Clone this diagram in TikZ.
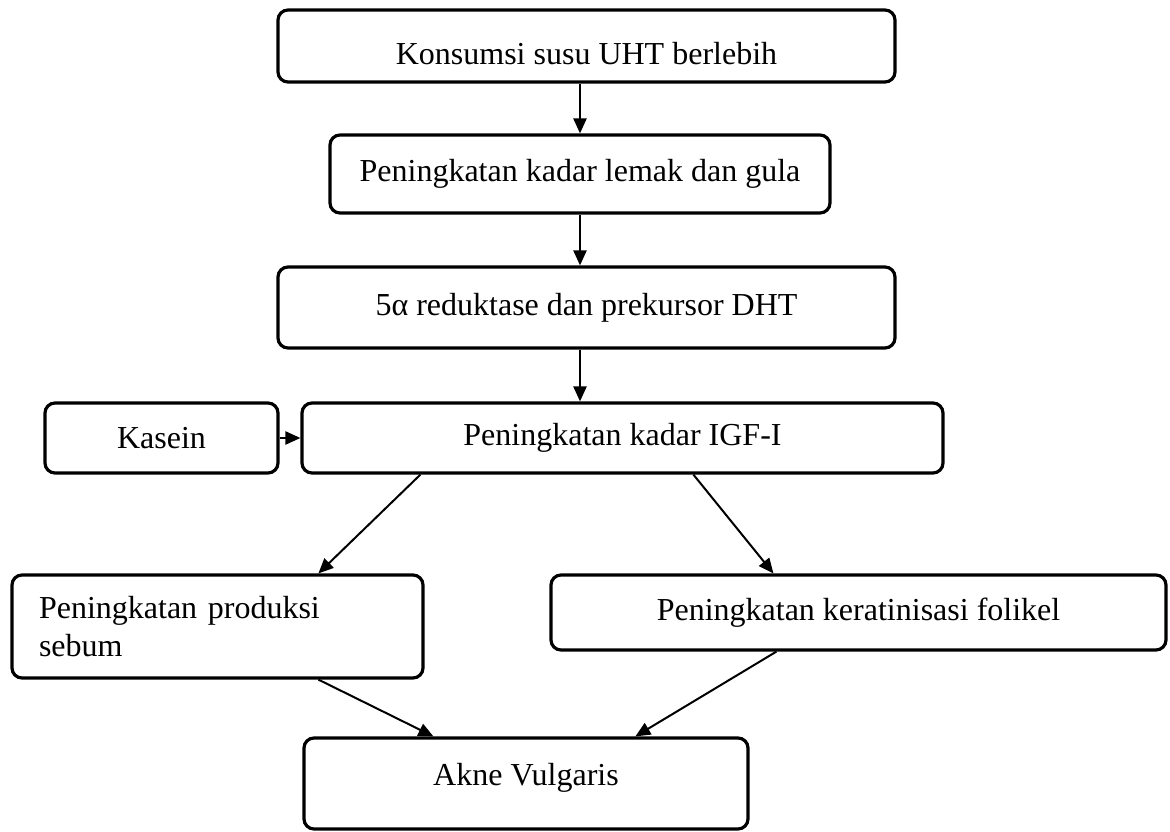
\documentclass[tikz,border=0pt]{standalone}
\usepackage{fontspec}
\setmainfont{Liberation Serif}
\usetikzlibrary{arrows.meta}
\usetikzlibrary{calc}
\newcommand{\px}{0.375pt}
\tikzset{
  kotak/.style={draw,line width=1.2pt,rounded corners=3.75pt,inner sep=0pt,
    font=\fontsize{12}{14.5}\selectfont},
  panah/.style={line width=0.75pt,-{Triangle[length=5.6pt,width=4.9pt]}}
}

\begin{document}
\begin{tikzpicture}[x=\px,y=-\px]
\useasboundingbox (0,0) rectangle (1170,832);
\node[kotak,minimum width=617*\px,minimum height=72*\px,text height=38*\px] (konsumsi) at (586.5,46) {Konsumsi susu UHT berlebih};
\node[kotak,minimum width=500*\px,minimum height=78*\px] (lemak) at (580,174) {Peningkatan kadar lemak dan gula};
\node[kotak,minimum width=617*\px,minimum height=81*\px] (dht) at (586.5,307.5) {5α reduktase dan prekursor DHT};
\node[kotak,minimum width=233*\px,minimum height=70*\px] (kasein) at (161.5,438) {Kasein};
\node[kotak,minimum width=641*\px,minimum height=70*\px] (igf) at (622.5,438) {Peningkatan kadar IGF-I};
\node[kotak,minimum width=411*\px,minimum height=103*\px,text width=357*\px,align=left] (sebum) at (217.5,626.5) {Peningkatan produksi\\sebum};
\node[kotak,minimum width=615*\px,minimum height=75*\px] (folikel) at (858.5,612.5) {Peningkatan keratinisasi folikel};
\node[kotak,minimum width=444*\px,minimum height=91*\px,text depth=19*\px] (akne) at (526,783.5) {Akne Vulgaris};

\draw[panah] (lemak.north |- konsumsi.south) -- (lemak.north);
\draw[panah] (lemak.south) -- (lemak.south |- dht.north);
\draw[panah] (lemak.south |- dht.south) -- (lemak.south |- igf.north);
\draw[panah] (kasein.east) -- (igf.west);
\draw[panah] ($(igf.south west)+(120,0)$) -- ($(sebum.north west)+(308,0)$);
\draw[panah] ($(igf.south west)+(393,0)$) -- ($(folikel.north west)+(224,0)$);
\draw[panah] ($(sebum.south west)+(308,0)$) -- ($(akne.north west)+(131,0)$);
\draw[panah] ($(folikel.south west)+(227,0)$) -- ($(akne.north west)+(333,0)$);
\end{tikzpicture}
\end{document}
